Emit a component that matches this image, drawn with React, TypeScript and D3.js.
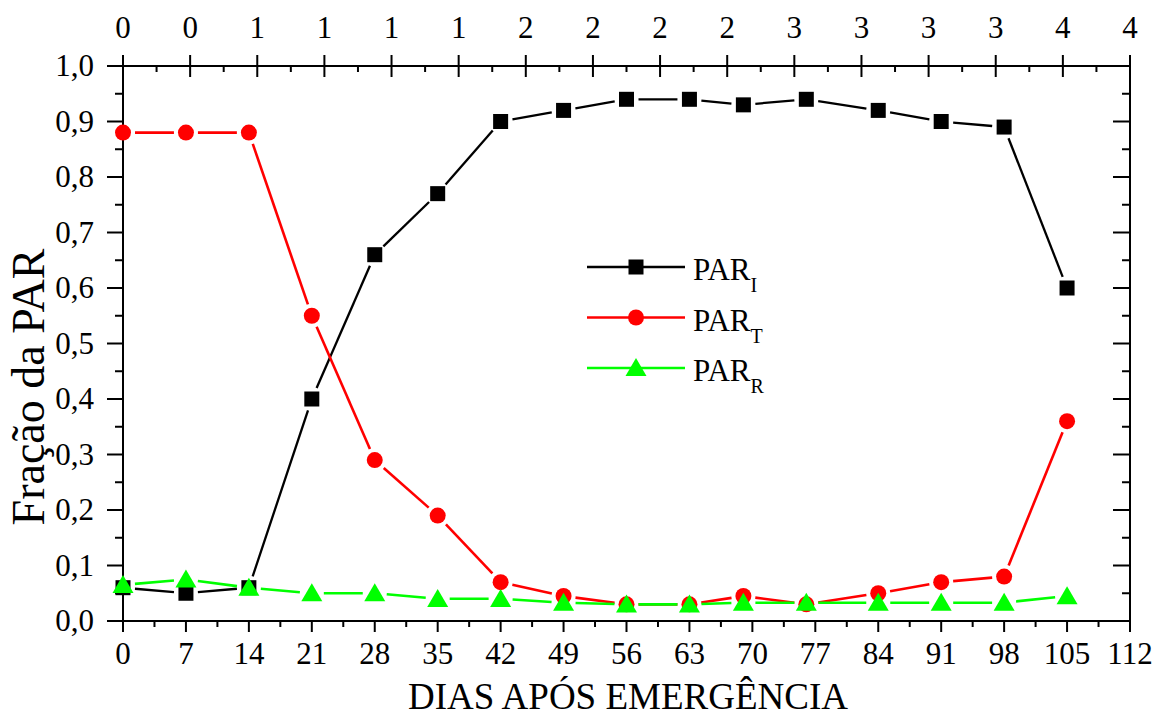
import React from "react";
import * as d3 from "d3";

const days = [0, 7, 14, 21, 28, 35, 42, 49, 56, 63, 69, 76, 84, 91, 98, 105];
const parI = [0.06, 0.05, 0.06, 0.40, 0.66, 0.77, 0.90, 0.92, 0.94, 0.94, 0.93, 0.94, 0.92, 0.90, 0.89, 0.60];
const parT = [0.88, 0.88, 0.88, 0.55, 0.29, 0.19, 0.07, 0.045, 0.03, 0.03, 0.045, 0.03, 0.05, 0.07, 0.08, 0.36];
const parR = [0.065, 0.075, 0.06, 0.05, 0.05, 0.04, 0.04, 0.033, 0.03, 0.03, 0.033, 0.033, 0.033, 0.033, 0.033, 0.045];

const bottomTicks = [0, 7, 14, 21, 28, 35, 42, 49, 56, 63, 70, 77, 84, 91, 98, 105, 112];
const topTickValues = [0, 0.25, 0.5, 0.75, 1, 1.25, 1.5, 1.75, 2, 2.25, 2.5, 2.75, 3, 3.25, 3.5, 3.75];
const topTickLabels = ["0", "0", "1", "1", "1", "1", "2", "2", "2", "2", "3", "3", "3", "3", "4", "4"];
const yTicks = [0, 0.1, 0.2, 0.3, 0.4, 0.5, 0.6, 0.7, 0.8, 0.9, 1.0];
const yTickLabels = ["0,0", "0,1", "0,2", "0,3", "0,4", "0,5", "0,6", "0,7", "0,8", "0,9", "1,0"];

const series = [
  { key: "I", name: "PAR", sub: "I", values: parI, color: "#000000", shape: "square" },
  { key: "T", name: "PAR", sub: "T", values: parT, color: "#ff0000", shape: "circle" },
  { key: "R", name: "PAR", sub: "R", values: parR, color: "#00ff00", shape: "triangle" },
];

const FONT = "'Liberation Serif', 'Times New Roman', serif";

const L = 123, R = 1130, T = 66, B = 621;

function Marker({ shape, x, y, color }: { shape: string; x: number; y: number; color: string }) {
  if (shape === "square") return <rect x={x - 7.5} y={y - 7.5} width={15} height={15} fill={color} />;
  if (shape === "circle") return <circle cx={x} cy={y} r={8} fill={color} />;
  const h = 18, w = 21;
  return <path d={`M${x},${y - h * 0.55} L${x + w / 2},${y + h * 0.45} L${x - w / 2},${y + h * 0.45} Z`} fill={color} />;
}

export default function App() {
  const x = d3.scaleLinear().domain([0, 112]).range([L, R]);
  const xTop = d3.scaleLinear().domain([0, 3.75]).range([L, R]);
  const y = d3.scaleLinear().domain([0, 1]).range([B, T]);

  const bottomMinor = d3.range(0, 112, 7).map((d) => d + 3.5);
  const topMinor = topTickValues.slice(0, -1).map((d) => d + 0.125);
  const yMinor = d3.range(0, 1, 0.1).map((d) => d + 0.05);

  const gap = 12;
  const segs = (vals: number[]) => {
    const out: { x1: number; y1: number; x2: number; y2: number }[] = [];
    for (let i = 0; i < vals.length - 1; i++) {
      const x1 = x(days[i]), y1 = y(vals[i]), x2 = x(days[i + 1]), y2 = y(vals[i + 1]);
      const len = Math.hypot(x2 - x1, y2 - y1);
      if (len <= 2 * gap) continue;
      const ux = (x2 - x1) / len, uy = (y2 - y1) / len;
      out.push({ x1: x1 + ux * gap, y1: y1 + uy * gap, x2: x2 - ux * gap, y2: y2 - uy * gap });
    }
    return out;
  };

  const legendX = 587, legendY0 = 267, legendDy = 50.5;

  return (
    <svg width={1160} height={716} style={{ position: "absolute", left: 0, top: 0, background: "#fff" }} fontFamily={FONT}>
      <rect x={0} y={0} width={1160} height={716} fill="#fff" />
      {/* frame */}
      <rect x={L} y={T} width={R - L} height={B - T} fill="none" stroke="#000" strokeWidth={2} />

      {/* bottom axis */}
      {bottomTicks.map((d) => (
        <g key={"b" + d}>
          <line x1={x(d)} x2={x(d)} y1={B} y2={B + 11} stroke="#000" strokeWidth={2} />
          <text x={x(d)} y={664} textAnchor="middle" fontSize={31}>{d}</text>
        </g>
      ))}
      {bottomMinor.map((d) => (
        <line key={"bm" + d} x1={x(d)} x2={x(d)} y1={B} y2={B + 6} stroke="#000" strokeWidth={2} />
      ))}

      {/* top axis */}
      {topTickValues.map((d, i) => (
        <g key={"t" + i}>
          <line x1={xTop(d)} x2={xTop(d)} y1={T - 11} y2={T + 11} stroke="#000" strokeWidth={2} />
          <text x={xTop(d)} y={38} textAnchor="middle" fontSize={31}>{topTickLabels[i]}</text>
        </g>
      ))}
      {topMinor.map((d, i) => (
        <line key={"tm" + i} x1={xTop(d)} x2={xTop(d)} y1={T} y2={T + 6} stroke="#000" strokeWidth={2} />
      ))}

      {/* left + right axes */}
      {yTicks.map((d, i) => (
        <g key={"l" + i}>
          <line x1={L - 16} x2={L} y1={y(d)} y2={y(d)} stroke="#000" strokeWidth={2} />
          <line x1={R - 17} x2={R} y1={y(d)} y2={y(d)} stroke="#000" strokeWidth={2} />
          <text x={94} y={y(d) + 10} textAnchor="end" fontSize={31}>{yTickLabels[i]}</text>
        </g>
      ))}
      {yMinor.map((d, i) => (
        <g key={"lm" + i}>
          <line x1={L - 8} x2={L} y1={y(d)} y2={y(d)} stroke="#000" strokeWidth={2} />
          <line x1={R - 8} x2={R} y1={y(d)} y2={y(d)} stroke="#000" strokeWidth={2} />
        </g>
      ))}

      {/* titles */}
      <text x={628} y={709} textAnchor="middle" fontSize={37}>DIAS APÓS EMERGÊNCIA</text>
      <text transform={`translate(44, 387) rotate(-90)`} textAnchor="middle" fontSize={46}>Fração da PAR</text>

      {/* series */}
      {series.map((s) => (
        <g key={s.key}>
          {segs(s.values).map((g, i) => (
            <line key={i} x1={g.x1} y1={g.y1} x2={g.x2} y2={g.y2} stroke={s.color} strokeWidth={s.key === "I" ? 2.3 : 2.6} />
          ))}
          {s.values.map((v, i) => (
            <Marker key={i} shape={s.shape} x={x(days[i])} y={y(v)} color={s.color} />
          ))}
        </g>
      ))}

      {/* legend */}
      {series.map((s, i) => {
        const ly = legendY0 + i * legendDy;
        return (
          <g key={"lg" + s.key}>
            <line x1={legendX} x2={legendX + 98} y1={ly} y2={ly} stroke={s.color} strokeWidth={2.5} />
            <Marker shape={s.shape} x={legendX + 49} y={ly} color={s.color} />
            <text x={693} y={ly + 13} fontSize={31}>
              {s.name}
              <tspan fontSize={20} dy={12}>{s.sub}</tspan>
            </text>
          </g>
        );
      })}
    </svg>
  );
}
